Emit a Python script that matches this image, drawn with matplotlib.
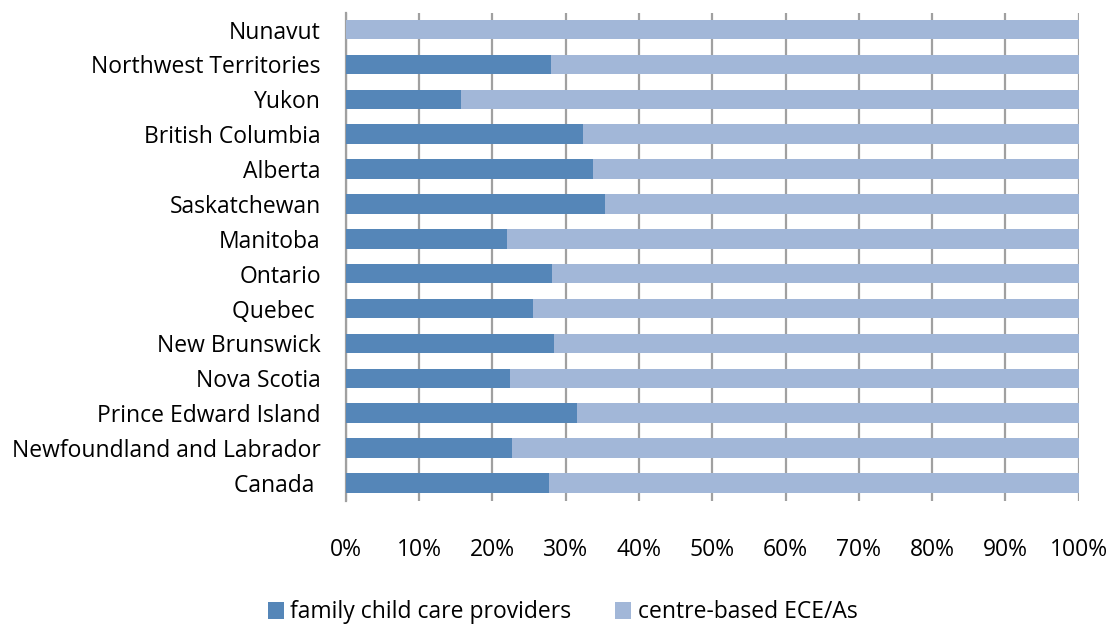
import matplotlib
matplotlib.use("Agg")
import matplotlib.pyplot as plt
import numpy as np

plt.rcParams['font.family'] = ['Open Sans', 'DejaVu Sans']

regions = ["Canada ", "Newfoundland and Labrador", "Prince Edward Island",
           "Nova Scotia", "New Brunswick", "Quebec ", "Ontario", "Manitoba",
           "Saskatchewan", "Alberta", "British Columbia", "Yukon",
           "Northwest Territories", "Nunavut"]
family_pct = [27.7, 22.7, 31.6, 22.4, 28.4, 25.5, 28.1, 22.0,
              35.3, 33.7, 32.3, 15.7, 28.0, 0.0]
centre_pct = [100 - v for v in family_pct]
x_ticks = list(range(0, 101, 10))

dark = "#5586B8"
light = "#A2B7D8"
grid_col = "#A0A0A0"
fs = 16.5

fig = plt.figure(figsize=(11.12, 6.25), dpi=100)
ax = fig.add_axes([0.311, 0.1984, 0.659, 0.7808])

y = np.arange(len(regions))
ax.barh(y, family_pct, height=0.56, color=dark, label="family child care providers", zorder=3)
ax.barh(y, centre_pct, left=family_pct, height=0.56, color=light,
        label="centre-based ECE/As", zorder=3)

ax.set_xlim(0, 100)
ax.set_ylim(-0.516, 13.473)
ax.set_xticks(x_ticks)
ax.set_xticklabels([f"{t}%" for t in x_ticks], fontsize=fs)
ax.set_yticks(y)
ax.set_yticklabels(regions, fontsize=fs)
ax.tick_params(axis='x', length=0, pad=27)
ax.tick_params(axis='y', length=0, pad=18)

ax.grid(axis='x', color=grid_col, linewidth=1.6, zorder=0)
for s in ['top', 'right', 'bottom']:
    ax.spines[s].set_visible(False)
ax.spines['left'].set_color(grid_col)
ax.spines['left'].set_linewidth(1.6)

fig.legend(loc='center', bbox_to_anchor=(0.506, 0.02), ncol=2, frameon=False,
           fontsize=fs, handlelength=0.7, handleheight=0.7, handletextpad=0.3,
           columnspacing=1.9)

fig.savefig("out.png", dpi=100)
